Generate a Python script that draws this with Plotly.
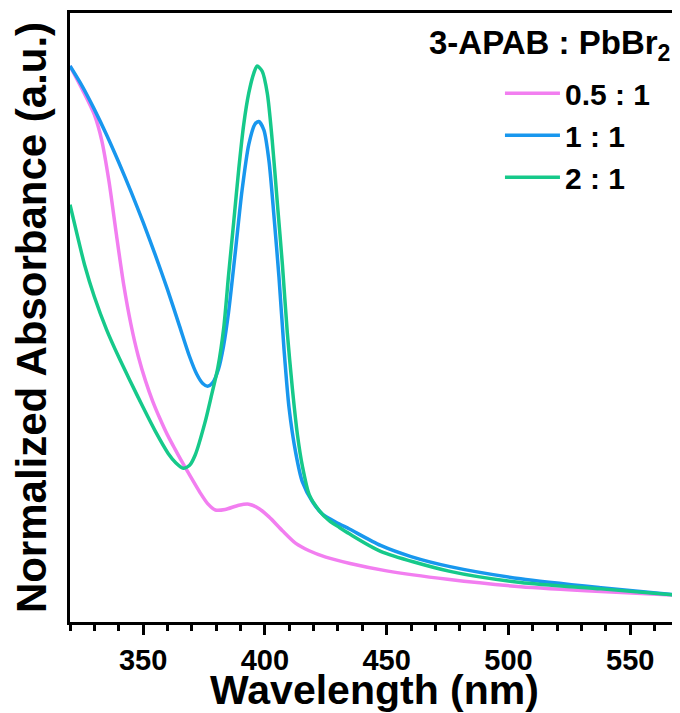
import plotly.graph_objects as go

# Wavelength (nm) and normalized absorbance values
wl_05 = [320, 325, 330, 333, 336, 339, 342, 345, 348, 351, 354, 357, 360, 363, 366,
         369.5, 373.5, 376.5, 379.7, 383.7, 389.3, 393.4, 397.5, 401.7, 407.2, 412.7,
         418.2, 425, 435, 450, 475, 505, 538, 570]
abs_05 = [1.000, 0.956, 0.908, 0.860, 0.782, 0.683, 0.588, 0.512, 0.452, 0.405, 0.366,
          0.333, 0.303, 0.277, 0.252, 0.224, 0.193, 0.173, 0.161, 0.162, 0.170, 0.172,
          0.164, 0.148, 0.122, 0.098, 0.084, 0.072, 0.060, 0.046, 0.030, 0.016, 0.007,
          0.000]

wl_11 = [320, 325, 330, 335, 340, 345, 350, 355, 360, 365, 369, 372, 374.5, 376.5,
         378.5, 381, 383, 385.1, 387.9, 390.6, 393.4, 395.9, 397.5, 399.6, 401.7, 403.7,
         405.8, 407.9, 409.9, 412.7, 415.4, 419.6, 423.7, 429.2, 434.7, 447.5, 460, 476,
         505, 538, 570]
abs_11 = [1.000, 0.962, 0.918, 0.870, 0.818, 0.763, 0.705, 0.643, 0.578, 0.508, 0.452,
          0.418, 0.400, 0.395, 0.401, 0.428, 0.470, 0.535, 0.650, 0.764, 0.852, 0.890,
          0.895, 0.879, 0.820, 0.718, 0.600, 0.462, 0.355, 0.268, 0.214, 0.176, 0.153,
          0.138, 0.125, 0.094, 0.073, 0.054, 0.031, 0.014, 0.000]

wl_21 = [320, 323, 326, 330, 335, 340, 345, 350, 355, 360.3, 363.5, 366.5, 369, 371.4,
         375.5, 378.2, 380.7, 383.1, 385.1, 387.2, 389.3, 391.3, 393.4, 395.5, 396.8,
         398.9, 401, 403, 405.1, 407.2, 409.2, 411.3, 413.4, 415.4, 418.2, 422.3, 426.4,
         430.6, 434.7, 447.5, 476, 505, 538, 570]
abs_21 = [0.738, 0.680, 0.624, 0.564, 0.502, 0.450, 0.402, 0.355, 0.310, 0.268, 0.250,
          0.240, 0.245, 0.265, 0.328, 0.380, 0.430, 0.505, 0.605, 0.705, 0.806, 0.889,
          0.949, 0.987, 1.000, 0.990, 0.948, 0.860, 0.742, 0.624, 0.496, 0.390, 0.302,
          0.244, 0.190, 0.160, 0.141, 0.128, 0.116, 0.083, 0.045, 0.024, 0.012, 0.000]

series_names = ["0.5 : 1", "1 : 1", "2 : 1"]
series_colors = ["#F27EF0", "#1897EE", "#16C98A"]
legend_title = "3-APAB : PbBr<sub>2</sub>"
x_ticks = [350, 400, 450, 500, 550]

FONT = "Liberation Sans, Arial, sans-serif"

fig = go.Figure()
for wl, ab, name, col in zip([wl_05, wl_11, wl_21], [abs_05, abs_11, abs_21],
                             series_names, series_colors):
    fig.add_trace(go.Scatter(x=wl, y=ab, mode="lines", name=name,
                             line=dict(color=col, width=3.5, shape="spline", smoothing=0.7)))

# the page body adds an 8 px offset, so the figure is drawn 8 px smaller
fig.update_layout(
    width=672, height=705,
    margin=dict(l=62, r=1, t=5, b=91),
    paper_bgcolor="white", plot_bgcolor="white",
    font=dict(family=FONT, color="black"),
    showlegend=True,
    legend=dict(x=0.706, xanchor="left", y=0.911, yanchor="top",
                bgcolor="rgba(0,0,0,0)", borderwidth=0,
                font=dict(size=30, family=FONT, weight="bold"),
                tracegroupgap=0, itemwidth=55),
    annotations=[dict(text=legend_title, xref="paper", yref="paper", x=0.988, y=0.948,
                      xanchor="right", yanchor="middle", showarrow=False,
                      font=dict(size=33, family=FONT, weight="bold"))],
)
fig.update_xaxes(
    range=[320, 570], tickvals=x_ticks, showgrid=False, zeroline=False, automargin=False,
    showline=True, linecolor="black", linewidth=3, mirror=True,
    ticks="outside", ticklen=10, tickwidth=3, tickcolor="black",
    minor=dict(dtick=10, tick0=320, ticks="outside", ticklen=6, tickwidth=2.5, tickcolor="black"),
    tickfont=dict(size=29, family=FONT, weight="bold"),
    title=dict(text="Wavelength (nm)", font=dict(size=41, family=FONT, weight="bold"), standoff=5),
)
fig.update_yaxes(
    range=[-0.0506, 1.1001], showgrid=False, zeroline=False, showticklabels=False,
    automargin=False,
    showline=True, linecolor="black", linewidth=3, mirror=True, ticks="",
    title=dict(text="Normalized Absorbance (a.u.)",
               font=dict(size=42, family=FONT, weight="bold"), standoff=8),
)

fig.write_html("out.html")
